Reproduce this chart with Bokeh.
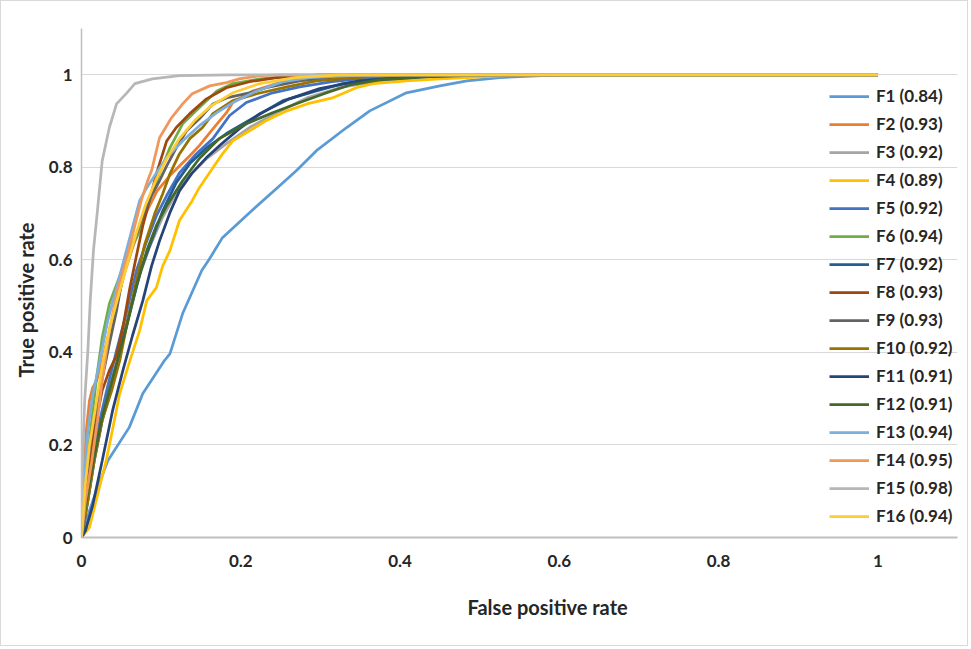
from bokeh.plotting import figure
from bokeh.models import FixedTicker, Legend, LegendItem, Range1d, Title
from bokeh.embed import file_html
from bokeh.resources import INLINE

names = ["F1", "F2", "F3", "F4", "F5", "F6", "F7", "F8",
         "F9", "F10", "F11", "F12", "F13", "F14", "F15", "F16"]
auc = ["0.84", "0.93", "0.92", "0.89", "0.92", "0.94", "0.92", "0.93",
       "0.93", "0.92", "0.91", "0.91", "0.94", "0.95", "0.98", "0.94"]
colors = ["#5B9BD5", "#ED7D31", "#A5A5A5", "#FFC000", "#4472C4", "#70AD47",
          "#255E91", "#9E480E", "#636363", "#997300", "#264478", "#43682B",
          "#7CAFDD", "#F1975A", "#B7B7B7", "#FFCD33"]

ticks = [0, 0.2, 0.4, 0.6, 0.8, 1]
x_title = "False positive rate"
y_title = "True positive rate"

f1_fpr = [0, 0.010, 0.019, 0.033, 0.060, 0.077, 0.104, 0.111, 0.127, 0.151, 0.161, 0.177, 0.211, 0.246, 0.270, 0.295, 0.333, 0.362, 0.408, 0.450, 0.484, 0.525, 0.60, 1.0]
f1_tpr = [0, 0.058, 0.102, 0.166, 0.238, 0.311, 0.382, 0.397, 0.484, 0.577, 0.603, 0.648, 0.702, 0.756, 0.793, 0.836, 0.886, 0.922, 0.961, 0.976, 0.987, 0.994, 1.0, 1.0]

f2_fpr = [0, 0.003, 0.006, 0.010, 0.014, 0.019, 0.026, 0.035, 0.045, 0.055, 0.067, 0.079, 0.095, 0.111, 0.123, 0.136, 0.148, 0.165, 0.182, 0.190, 0.215, 0.249, 0.274, 0.324, 0.374, 1.0]
f2_tpr = [0, 0.145, 0.231, 0.296, 0.324, 0.339, 0.382, 0.447, 0.512, 0.577, 0.641, 0.695, 0.749, 0.782, 0.803, 0.825, 0.847, 0.883, 0.918, 0.940, 0.965, 0.983, 0.991, 0.998, 1.0, 1.0]

f3_fpr = [0, 0.006, 0.015, 0.025, 0.036, 0.048, 0.060, 0.073, 0.085, 0.101, 0.117, 0.136, 0.157, 0.182, 0.211, 0.245, 0.283, 0.324, 0.374, 0.437, 0.513, 1.0]
f3_tpr = [0, 0.080, 0.166, 0.253, 0.328, 0.404, 0.490, 0.566, 0.626, 0.689, 0.739, 0.782, 0.819, 0.851, 0.886, 0.918, 0.950, 0.972, 0.987, 0.996, 1.0, 1.0]

f4_fpr = [0, 0.010, 0.020, 0.031, 0.040, 0.048, 0.060, 0.073, 0.082, 0.094, 0.102, 0.111, 0.123, 0.139, 0.148, 0.165, 0.177, 0.190, 0.211, 0.232, 0.258, 0.283, 0.315, 0.345, 0.366, 0.408, 0.450, 0.484, 0.550, 1.0]
f4_tpr = [0, 0.022, 0.091, 0.166, 0.242, 0.311, 0.378, 0.447, 0.512, 0.540, 0.587, 0.620, 0.685, 0.728, 0.756, 0.799, 0.829, 0.857, 0.879, 0.901, 0.922, 0.937, 0.950, 0.972, 0.981, 0.987, 0.991, 0.994, 1.0, 1.0]

f5_fpr = [0, 0.006, 0.014, 0.023, 0.033, 0.044, 0.057, 0.069, 0.082, 0.094, 0.107, 0.123, 0.144, 0.165, 0.186, 0.207, 0.240, 0.274, 0.315, 0.362, 0.425, 0.487, 1.0]
f5_tpr = [0, 0.080, 0.166, 0.253, 0.328, 0.404, 0.490, 0.577, 0.641, 0.695, 0.739, 0.788, 0.829, 0.862, 0.912, 0.940, 0.961, 0.974, 0.985, 0.994, 0.998, 1.0, 1.0]

f6_fpr = [0, 0.004, 0.010, 0.019, 0.026, 0.035, 0.041, 0.052, 0.073, 0.085, 0.098, 0.111, 0.127, 0.148, 0.170, 0.190, 0.224, 0.274, 0.324, 1.0]
f6_tpr = [0, 0.102, 0.210, 0.346, 0.432, 0.505, 0.533, 0.583, 0.663, 0.728, 0.786, 0.842, 0.894, 0.929, 0.965, 0.981, 0.991, 0.998, 1.0, 1.0]

f7_fpr = [0, 0.008, 0.016, 0.026, 0.038, 0.050, 0.063, 0.075, 0.088, 0.102, 0.119, 0.136, 0.157, 0.182, 0.220, 0.253, 0.295, 0.328, 0.374, 0.437, 0.500, 1.0]
f7_tpr = [0, 0.080, 0.166, 0.253, 0.328, 0.415, 0.501, 0.581, 0.641, 0.706, 0.767, 0.808, 0.842, 0.873, 0.911, 0.944, 0.965, 0.981, 0.991, 0.998, 1.0, 1.0]

f8_fpr = [0, 0.008, 0.016, 0.026, 0.035, 0.044, 0.052, 0.060, 0.069, 0.077, 0.082, 0.094, 0.107, 0.119, 0.136, 0.157, 0.182, 0.211, 0.245, 0.299, 1.0]
f8_tpr = [0, 0.123, 0.231, 0.318, 0.361, 0.393, 0.454, 0.533, 0.609, 0.674, 0.706, 0.786, 0.857, 0.886, 0.916, 0.948, 0.972, 0.985, 0.994, 1.0, 1.0]

f9_fpr = [0, 0.005, 0.013, 0.023, 0.035, 0.044, 0.052, 0.064, 0.077, 0.088, 0.098, 0.107, 0.119, 0.132, 0.148, 0.165, 0.182, 0.211, 0.232, 0.274, 0.324, 0.399, 1.0]
f9_tpr = [0, 0.123, 0.231, 0.318, 0.419, 0.490, 0.566, 0.631, 0.695, 0.739, 0.771, 0.803, 0.842, 0.879, 0.905, 0.937, 0.950, 0.961, 0.972, 0.987, 0.996, 1.0, 1.0]

f10_fpr = [0, 0.008, 0.016, 0.026, 0.038, 0.048, 0.058, 0.069, 0.079, 0.092, 0.102, 0.111, 0.123, 0.136, 0.152, 0.165, 0.190, 0.220, 0.258, 0.295, 0.362, 0.437, 1.0]
f10_tpr = [0, 0.080, 0.166, 0.253, 0.318, 0.382, 0.469, 0.555, 0.631, 0.700, 0.743, 0.786, 0.829, 0.862, 0.886, 0.916, 0.944, 0.959, 0.974, 0.987, 0.996, 1.0, 1.0]

f11_fpr = [0, 0.005, 0.014, 0.026, 0.039, 0.052, 0.064, 0.077, 0.088, 0.098, 0.111, 0.123, 0.139, 0.157, 0.176, 0.198, 0.224, 0.261, 0.299, 0.349, 0.425, 0.500, 1.0]
f11_tpr = [0, 0.015, 0.069, 0.166, 0.274, 0.361, 0.436, 0.512, 0.587, 0.641, 0.702, 0.749, 0.788, 0.821, 0.851, 0.883, 0.916, 0.948, 0.970, 0.987, 0.996, 1.0, 1.0]

f12_fpr = [0, 0.006, 0.015, 0.025, 0.035, 0.045, 0.057, 0.069, 0.082, 0.094, 0.107, 0.127, 0.148, 0.173, 0.207, 0.240, 0.274, 0.308, 0.337, 0.374, 0.437, 0.513, 1.0]
f12_tpr = [0, 0.080, 0.166, 0.253, 0.318, 0.382, 0.458, 0.544, 0.620, 0.674, 0.717, 0.771, 0.819, 0.862, 0.894, 0.918, 0.940, 0.961, 0.978, 0.989, 0.996, 1.0, 1.0]

f13_fpr = [0, 0.003, 0.008, 0.014, 0.023, 0.033, 0.043, 0.053, 0.063, 0.073, 0.082, 0.094, 0.107, 0.127, 0.148, 0.170, 0.190, 0.220, 0.253, 0.286, 0.337, 0.399, 1.0]
f13_tpr = [0, 0.123, 0.231, 0.307, 0.382, 0.469, 0.533, 0.598, 0.663, 0.728, 0.756, 0.788, 0.821, 0.857, 0.890, 0.918, 0.940, 0.965, 0.985, 0.994, 0.998, 1.0, 1.0]

f14_fpr = [0, 0.005, 0.013, 0.020, 0.026, 0.035, 0.045, 0.057, 0.067, 0.075, 0.083, 0.088, 0.098, 0.113, 0.127, 0.139, 0.161, 0.182, 0.198, 0.224, 0.249, 1.0]
f14_tpr = [0, 0.080, 0.166, 0.253, 0.339, 0.447, 0.533, 0.605, 0.674, 0.728, 0.771, 0.793, 0.864, 0.907, 0.937, 0.959, 0.976, 0.983, 0.991, 0.998, 1.0, 1.0]

f15_fpr = [0, 0.001, 0.004, 0.008, 0.011, 0.015, 0.020, 0.026, 0.035, 0.044, 0.057, 0.067, 0.089, 0.123, 0.186, 1.0]
f15_tpr = [0, 0.145, 0.296, 0.404, 0.512, 0.620, 0.706, 0.814, 0.886, 0.937, 0.961, 0.981, 0.991, 0.998, 1.0, 1.0]

f16_fpr = [0, 0.004, 0.010, 0.018, 0.026, 0.036, 0.048, 0.058, 0.069, 0.080, 0.093, 0.107, 0.123, 0.142, 0.163, 0.190, 0.224, 0.268, 0.324, 1.0]
f16_tpr = [0, 0.102, 0.199, 0.285, 0.371, 0.458, 0.533, 0.594, 0.659, 0.717, 0.771, 0.819, 0.862, 0.901, 0.933, 0.961, 0.981, 0.994, 1.0, 1.0]

fprs = [f1_fpr, f2_fpr, f3_fpr, f4_fpr, f5_fpr, f6_fpr, f7_fpr, f8_fpr,
        f9_fpr, f10_fpr, f11_fpr, f12_fpr, f13_fpr, f14_fpr, f15_fpr, f16_fpr]
tprs = [f1_tpr, f2_tpr, f3_tpr, f4_tpr, f5_tpr, f6_tpr, f7_tpr, f8_tpr,
        f9_tpr, f10_tpr, f11_tpr, f12_tpr, f13_tpr, f14_tpr, f15_tpr, f16_tpr]

FONT = "Lato"
TXT = "#262626"

p = figure(width=968, height=646, x_range=Range1d(0, 1.1), y_range=Range1d(0, 1.1),
           output_backend="svg", toolbar_location=None,
           min_border_left=80, min_border_top=27, min_border_right=12, min_border_bottom=110)
p.styles = {"border": "1px solid #D9D9D9"}
p.outline_line_color = None
p.background_fill_color = "white"
p.border_fill_color = "white"

p.xgrid.visible = False
p.ygrid.grid_line_color = "#D9D9D9"
p.ygrid.grid_line_width = 1.2

for ax in (p.xaxis[0], p.yaxis[0]):
    ax.ticker = FixedTicker(ticks=ticks)
    ax.major_label_overrides = {0: "0", 1: "1"}
    ax.axis_line_color = "#BFBFBF"
    ax.axis_line_width = 2
    ax.major_tick_line_color = None
    ax.minor_tick_line_color = None
    ax.major_tick_out = 0
    ax.major_tick_in = 0
    ax.major_label_text_font = FONT
    ax.major_label_text_font_style = "bold"
    ax.major_label_text_font_size = "17px"
    ax.major_label_text_color = TXT

p.xaxis.major_label_standoff = 17
p.yaxis.major_label_standoff = 9
p.yaxis.axis_line_width = 1.5

# axis titles, placed as in the reference (offset from the frame centre)
p.add_layout(Title(text=x_title, align="left", offset=386, standoff=47,
                   text_font=FONT, text_font_style="bold", text_font_size="20px",
                   text_color=TXT), "below")
p.add_layout(Title(text=y_title, align="left", offset=160, standoff=15,
                   text_font=FONT, text_font_style="bold", text_font_size="20px",
                   text_color=TXT), "left")

items = []
for i in range(len(names)):
    r = p.line(fprs[i], tprs[i], line_color=colors[i], line_width=2.75)
    items.append(LegendItem(label=f"{names[i]} ({auc[i]})", renderers=[r]))

legend = Legend(items=items, location=(748, 11), padding=0, margin=0, spacing=7,
                glyph_width=40, glyph_height=20, label_height=20, label_standoff=7,
                label_text_font=FONT, label_text_font_style="bold",
                label_text_font_size="17px", label_text_color=TXT,
                background_fill_alpha=0, border_line_color=None)
p.add_layout(legend)

open("out.html", "w").write(file_html(p, INLINE))
